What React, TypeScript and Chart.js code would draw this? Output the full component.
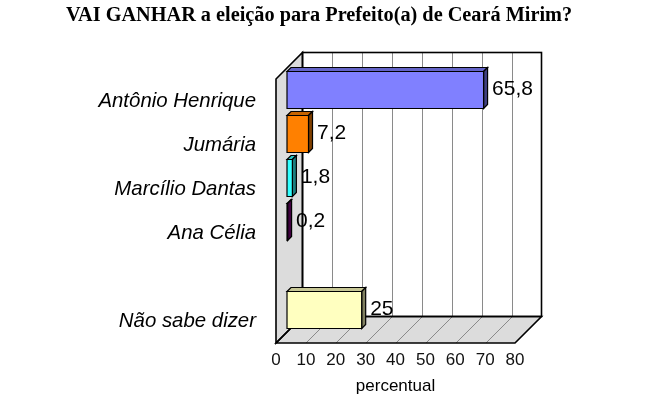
import { useEffect, useRef } from 'react'
import { Chart, registerables } from 'chart.js'
Chart.register(...registerables)

const titulo = 'VAI GANHAR a eleição para Prefeito(a) de Ceará Mirim?'
const candidatos = ['Antônio Henrique', 'Jumária', 'Marcílio Dantas', 'Ana Célia', '', 'Não sabe dizer']
const percentual: (number | null)[] = [65.8, 7.2, 1.8, 0.2, null, 25]
const cores = ['#8080ff', '#ff8000', '#33ffff', '#800080', '#ffffff', '#ffffc0']
const ticksX = [0, 10, 20, 30, 40, 50, 60, 70, 80]

const FUNDO = 26.5 // profundidade da caixa 3D
const DESL = 11    // barras ficam um pouco para dentro
const ESP = 4      // espessura das barras

function escurece(hex: string, f: number) {
  const n = parseInt(hex.slice(1), 16)
  const r = Math.round(((n >> 16) & 255) * f)
  const g = Math.round(((n >> 8) & 255) * f)
  const b = Math.round((n & 255) * f)
  return `rgb(${r},${g},${b})`
}

function poly(ctx: CanvasRenderingContext2D, pts: number[][], fill?: string, stroke?: string) {
  ctx.beginPath()
  pts.forEach(([x, y], i) => (i ? ctx.lineTo(x, y) : ctx.moveTo(x, y)))
  ctx.closePath()
  if (fill) { ctx.fillStyle = fill; ctx.fill() }
  if (stroke) { ctx.strokeStyle = stroke; ctx.stroke() }
}

const caixa3d = {
  id: 'caixa3d',
  beforeDatasetsDraw(chart: any) {
    const { ctx, chartArea: a, scales: { x } } = chart
    const x0 = x.getPixelForValue(ticksX[0])
    const x1 = x.getPixelForValue(ticksX[ticksX.length - 1])
    const t = a.top, b = a.bottom, d = FUNDO
    ctx.save()
    ctx.fillStyle = '#fff'
    ctx.fillRect(x0 + d, t - d, x1 - x0, b - t)
    poly(ctx, [[x0, t], [x0 + d, t - d], [x0 + d, b - d], [x0, b]], '#dcdcdc')
    poly(ctx, [[x0, b], [x0 + d, b - d], [x1 + d, b - d], [x1, b]], '#dcdcdc')
    ctx.strokeStyle = '#8a8a8a'
    ctx.lineWidth = 1
    ticksX.slice(1, -1).forEach(v => {
      const px = Math.round(x.getPixelForValue(v) + d) + 0.5
      ctx.beginPath()
      ctx.moveTo(px, t - d); ctx.lineTo(px, b - d)
      ctx.moveTo(px - d, b); ctx.lineTo(px, b - d)
      ctx.stroke()
    })
    ctx.lineWidth = 1.6
    ctx.strokeStyle = '#000'
    ctx.strokeRect(x0 + d, t - d, x1 - x0, b - t)
    poly(ctx, [[x0, t], [x0 + d, t - d], [x0 + d, b - d], [x0, b]], undefined, '#000')
    poly(ctx, [[x0, b], [x0 + d, b - d], [x1 + d, b - d], [x1, b]], undefined, '#000')
    ctx.restore()
  },
  beforeDatasetDraw() {
    return false
  },
  afterDatasetsDraw(chart: any) {
    const { ctx } = chart
    const meta = chart.getDatasetMeta(0)
    ctx.save()
    ctx.lineWidth = 1.2
    ctx.lineJoin = 'miter'
    meta.data.forEach((el: any, i: number) => {
      const v = percentual[i]
      if (v == null) return
      const { x: xe, y, base, height } = el.getProps(['x', 'y', 'base', 'height'], true)
      const c = cores[i], e = ESP
      const l = base + DESL, r = xe + DESL
      const tp = y - height / 2 - DESL, bt = y + height / 2 - DESL
      poly(ctx, [[l, tp], [l + e, tp - e], [r + e, tp - e], [r, tp]], escurece(c, 0.78), '#000')
      poly(ctx, [[r, tp], [r + e, tp - e], [r + e, bt - e], [r, bt]], escurece(c, 0.5), '#000')
      poly(ctx, [[l, tp], [r, tp], [r, bt], [l, bt]], c, '#000')
      ctx.fillStyle = '#000'
      ctx.font = '21px "Liberation Sans", Arial, sans-serif'
      ctx.textAlign = 'left'
      ctx.textBaseline = 'alphabetic'
      ctx.fillText(String(v).replace('.', ','), r + 8.5, (tp + bt) / 2 + 4.5)
    })
    ctx.restore()
  },
}

export default function App() {
  const ref = useRef<HTMLCanvasElement>(null)

  useEffect(() => {
    if (!ref.current) return
    const chart = new Chart(ref.current, {
      type: 'bar',
      data: {
        labels: candidatos,
        datasets: [{ data: percentual, backgroundColor: cores, categoryPercentage: 0.84, barPercentage: 1 }],
      },
      options: {
        responsive: false,
        animation: false,
        indexAxis: 'y',
        layout: { padding: { left: 0, top: 79, right: 157, bottom: 0 } },
        plugins: { legend: { display: false }, tooltip: { enabled: false } },
        scales: {
          x: {
            min: 0, max: 80,
            afterBuildTicks: (s: any) => { s.ticks = ticksX.map(value => ({ value })) },
            afterFit: (s: any) => { s.height = 61 },
            grid: { display: false, drawTicks: false },
            border: { display: false },
            ticks: { color: '#111', padding: 7, font: { family: '"Liberation Sans", Arial', size: 17 } },
            title: {
              display: true, text: 'percentual', color: '#000',
              font: { family: '"Liberation Sans", Arial', size: 17 },
              padding: { top: 0, bottom: 7 },
            },
          },
          y: {
            afterFit: (s: any) => { s.width = 276 },
            grid: { display: false, drawTicks: false },
            border: { display: false },
            ticks: { color: '#000', padding: 20, font: { family: '"Liberation Sans", Arial', size: 20.4, style: 'italic' } },
          },
        },
      },
      plugins: [caixa3d],
    })
    return () => { chart.destroy() }
  }, [])

  return (
    <div style={{ position: 'absolute', left: 0, top: 0, width: 672, height: 404, background: '#fff' }}>
      <canvas ref={ref} width={672} height={404} style={{ position: 'absolute', left: 0, top: 0 }} />
      <div style={{
        position: 'absolute', left: 66, top: 3, whiteSpace: 'nowrap', lineHeight: '20px',
        font: 'bold 20.3px "Liberation Serif", serif', color: '#000',
      }}>{titulo}</div>
    </div>
  )
}
